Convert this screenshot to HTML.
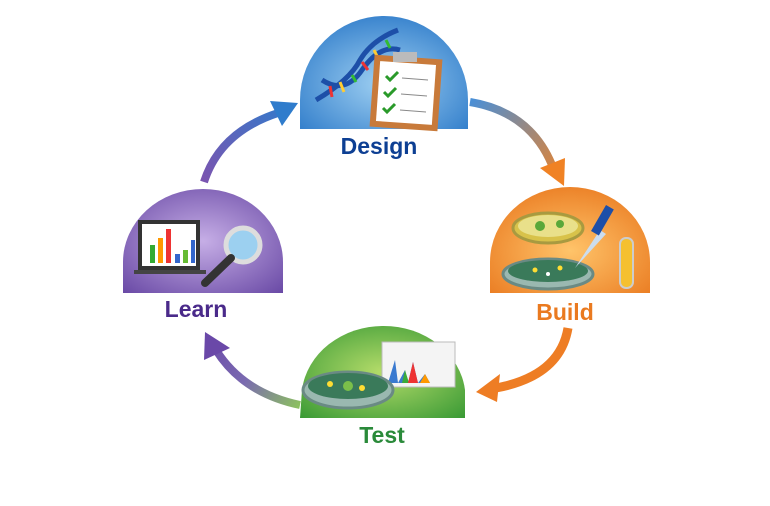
<!DOCTYPE html>
<html><head><meta charset="utf-8"><style>
html,body{margin:0;padding:0;background:#fff;width:770px;height:506px;overflow:hidden}
svg{display:block}
text{font-family:"Liberation Sans",sans-serif;font-weight:bold;font-size:23px;text-anchor:middle}
</style></head><body>
<svg width="770" height="506" viewBox="0 0 770 506" xmlns="http://www.w3.org/2000/svg">
<defs>
<radialGradient id="gb" cx="0.5" cy="0.6" r="0.7"><stop offset="0" stop-color="#9fd0f2"/><stop offset="1" stop-color="#2a78c8"/></radialGradient>
<radialGradient id="go" cx="0.5" cy="0.6" r="0.7"><stop offset="0" stop-color="#ffc46a"/><stop offset="1" stop-color="#e9781e"/></radialGradient>
<radialGradient id="gg" cx="0.5" cy="0.5" r="0.7"><stop offset="0" stop-color="#b5dc6a"/><stop offset="1" stop-color="#3a9a35"/></radialGradient>
<radialGradient id="gp" cx="0.5" cy="0.5" r="0.7"><stop offset="0" stop-color="#c6aee6"/><stop offset="1" stop-color="#6a4aa6"/></radialGradient>
<linearGradient id="a1" gradientUnits="userSpaceOnUse" x1="205" y1="182" x2="295" y2="105"><stop offset="0" stop-color="#7a55b0"/><stop offset="1" stop-color="#2f7ccc"/></linearGradient>
<linearGradient id="a2" gradientUnits="userSpaceOnUse" x1="470" y1="102" x2="565" y2="185"><stop offset="0" stop-color="#4a8fd6"/><stop offset="1" stop-color="#f08224"/></linearGradient>
<linearGradient id="a4" gradientUnits="userSpaceOnUse" x1="300" y1="405" x2="205" y2="335"><stop offset="0" stop-color="#8cc060"/><stop offset="0.5" stop-color="#7a6ab0"/><stop offset="1" stop-color="#6a48a8"/></linearGradient>
</defs>
<!-- arrows -->
<path d="M204,182 Q220,132 278,113" stroke="url(#a1)" stroke-width="8" fill="none"/>
<polygon points="298,103 270,101 282,126" fill="#2f7ccc"/>
<path d="M470,102 Q530,112 552,165" stroke="url(#a2)" stroke-width="8" fill="none"/>
<polygon points="564,186 540,168 565,158" fill="#f08224"/>
<path d="M568,328 Q560,376 496,388" stroke="#ee7d24" stroke-width="9" fill="none"/>
<polygon points="476,392 500,374 497,402" fill="#ee7d24"/>
<path d="M300,405 Q243,393 216,350" stroke="url(#a4)" stroke-width="8" fill="none"/>
<polygon points="205,332 204,360 230,348" fill="#6a48a8"/>
<!-- domes -->
<path d="M300,129 L300,100 A84,84 0 0 1 468,100 L468,129 Z" fill="url(#gb)"/>
<path d="M490,293 L490,262 A80,75 0 0 1 650,262 L650,293 Z" fill="url(#go)"/>
<path d="M300,418 L302,390 A82,72 0 0 1 465,390 L465,418 Z" fill="url(#gg)"/>
<path d="M123,293 L123,262 A80,73 0 0 1 283,262 L283,293 Z" fill="url(#gp)"/>
<!-- design icons -->
<path d="M316,100 Q350,80 360,60 Q372,40 398,30" stroke="#1d4fa8" stroke-width="5" fill="none"/>
<path d="M322,80 Q345,95 362,70 Q380,44 400,50" stroke="#1d4fa8" stroke-width="5" fill="none"/>
<g stroke-width="3"><line x1="330" y1="86" x2="332" y2="97" stroke="#e33"/><line x1="340" y1="82" x2="344" y2="92" stroke="#fc3"/><line x1="352" y1="75" x2="356" y2="82" stroke="#3b3"/><line x1="362" y1="62" x2="368" y2="70" stroke="#e33"/><line x1="374" y1="50" x2="378" y2="58" stroke="#fc3"/><line x1="386" y1="40" x2="390" y2="48" stroke="#3b3"/></g>
<rect x="372" y="57" width="68" height="72" fill="#c87a3a" transform="rotate(4 406 93)"/>
<rect x="378" y="63" width="56" height="60" fill="#fff" transform="rotate(4 406 93)"/>
<rect x="393" y="52" width="24" height="10" fill="#bbb"/>
<g stroke="#2a9a2a" stroke-width="3" fill="none"><path d="M386,76 l4,4 8,-8"/><path d="M384,92 l4,4 8,-8"/><path d="M383,108 l4,4 8,-8"/></g>
<g stroke="#888"><line x1="402" y1="78" x2="428" y2="80"/><line x1="401" y1="94" x2="427" y2="96"/><line x1="400" y1="110" x2="426" y2="112"/></g>
<text x="379" y="154" fill="#0d3f93">Design</text>
<!-- build icons -->
<ellipse cx="548" cy="228" rx="35" ry="15" fill="#d8c24a" stroke="#a89a40" stroke-width="3"/>
<ellipse cx="548" cy="226" rx="30" ry="11" fill="#e9e08a"/>
<circle cx="540" cy="226" r="5" fill="#5aa83a"/><circle cx="560" cy="224" r="4" fill="#5aa83a"/>
<ellipse cx="548" cy="274" rx="45" ry="15" fill="#9ab8b0" stroke="#6a8a84" stroke-width="3"/>
<ellipse cx="548" cy="271" rx="40" ry="11" fill="#3a7a5a"/>
<circle cx="535" cy="270" r="2.5" fill="#fd3"/><circle cx="560" cy="268" r="2.5" fill="#fd3"/><circle cx="548" cy="274" r="2" fill="#fff"/>
<path d="M575,268 L600,230 L606,234 Z" fill="#cde"/>
<rect x="598" y="205" width="9" height="30" fill="#1d4fa8" transform="rotate(30 602 220)"/>
<rect x="620" y="238" width="13" height="50" rx="6" fill="#f5c030" stroke="#ccc" stroke-width="2"/>
<text x="565" y="320" fill="#ea7a20">Build</text>
<!-- test icons -->
<rect x="382" y="342" width="73" height="45" fill="#f4f4f4" stroke="#bbb"/>
<path d="M388,383 L395,360 L398,383 L405,370 L408,383 L413,362 L418,383 L425,374 L430,383 Z" fill="#3a7ad0"/>
<path d="M402,383 L405,370 L409,383 Z" fill="#3aaa3a"/><path d="M408,383 L413,362 L418,383 Z" fill="#e33"/><path d="M420,383 L425,374 L430,383 Z" fill="#f90"/>
<ellipse cx="348" cy="390" rx="45" ry="18" fill="#9ab8b0" stroke="#6a8a84" stroke-width="3"/>
<ellipse cx="348" cy="386" rx="40" ry="13" fill="#3a7a5a"/>
<circle cx="330" cy="384" r="3" fill="#fd3"/><circle cx="362" cy="388" r="3" fill="#fd3"/><circle cx="348" cy="386" r="5" fill="#7bc04a"/>
<text x="382" y="443" fill="#2a8a3a">Test</text>
<!-- learn icons -->
<rect x="138" y="220" width="62" height="50" fill="#333"/>
<rect x="142" y="224" width="54" height="42" fill="#fff"/>
<rect x="134" y="270" width="72" height="4" fill="#444"/>
<rect x="150" y="245" width="5" height="18" fill="#3a3"/><rect x="158" y="238" width="5" height="25" fill="#f90"/><rect x="166" y="229" width="5" height="34" fill="#e33"/><rect x="175" y="254" width="5" height="9" fill="#36c"/><rect x="183" y="250" width="5" height="13" fill="#6b3"/><rect x="191" y="240" width="4" height="23" fill="#36c"/>
<circle cx="243" cy="245" r="17" fill="#9cd0f0" stroke="#ddd" stroke-width="5"/>
<line x1="231" y1="258" x2="205" y2="283" stroke="#333" stroke-width="8" stroke-linecap="round"/>
<text x="196" y="317" fill="#4a2a8a">Learn</text>
</svg>
</body></html>
